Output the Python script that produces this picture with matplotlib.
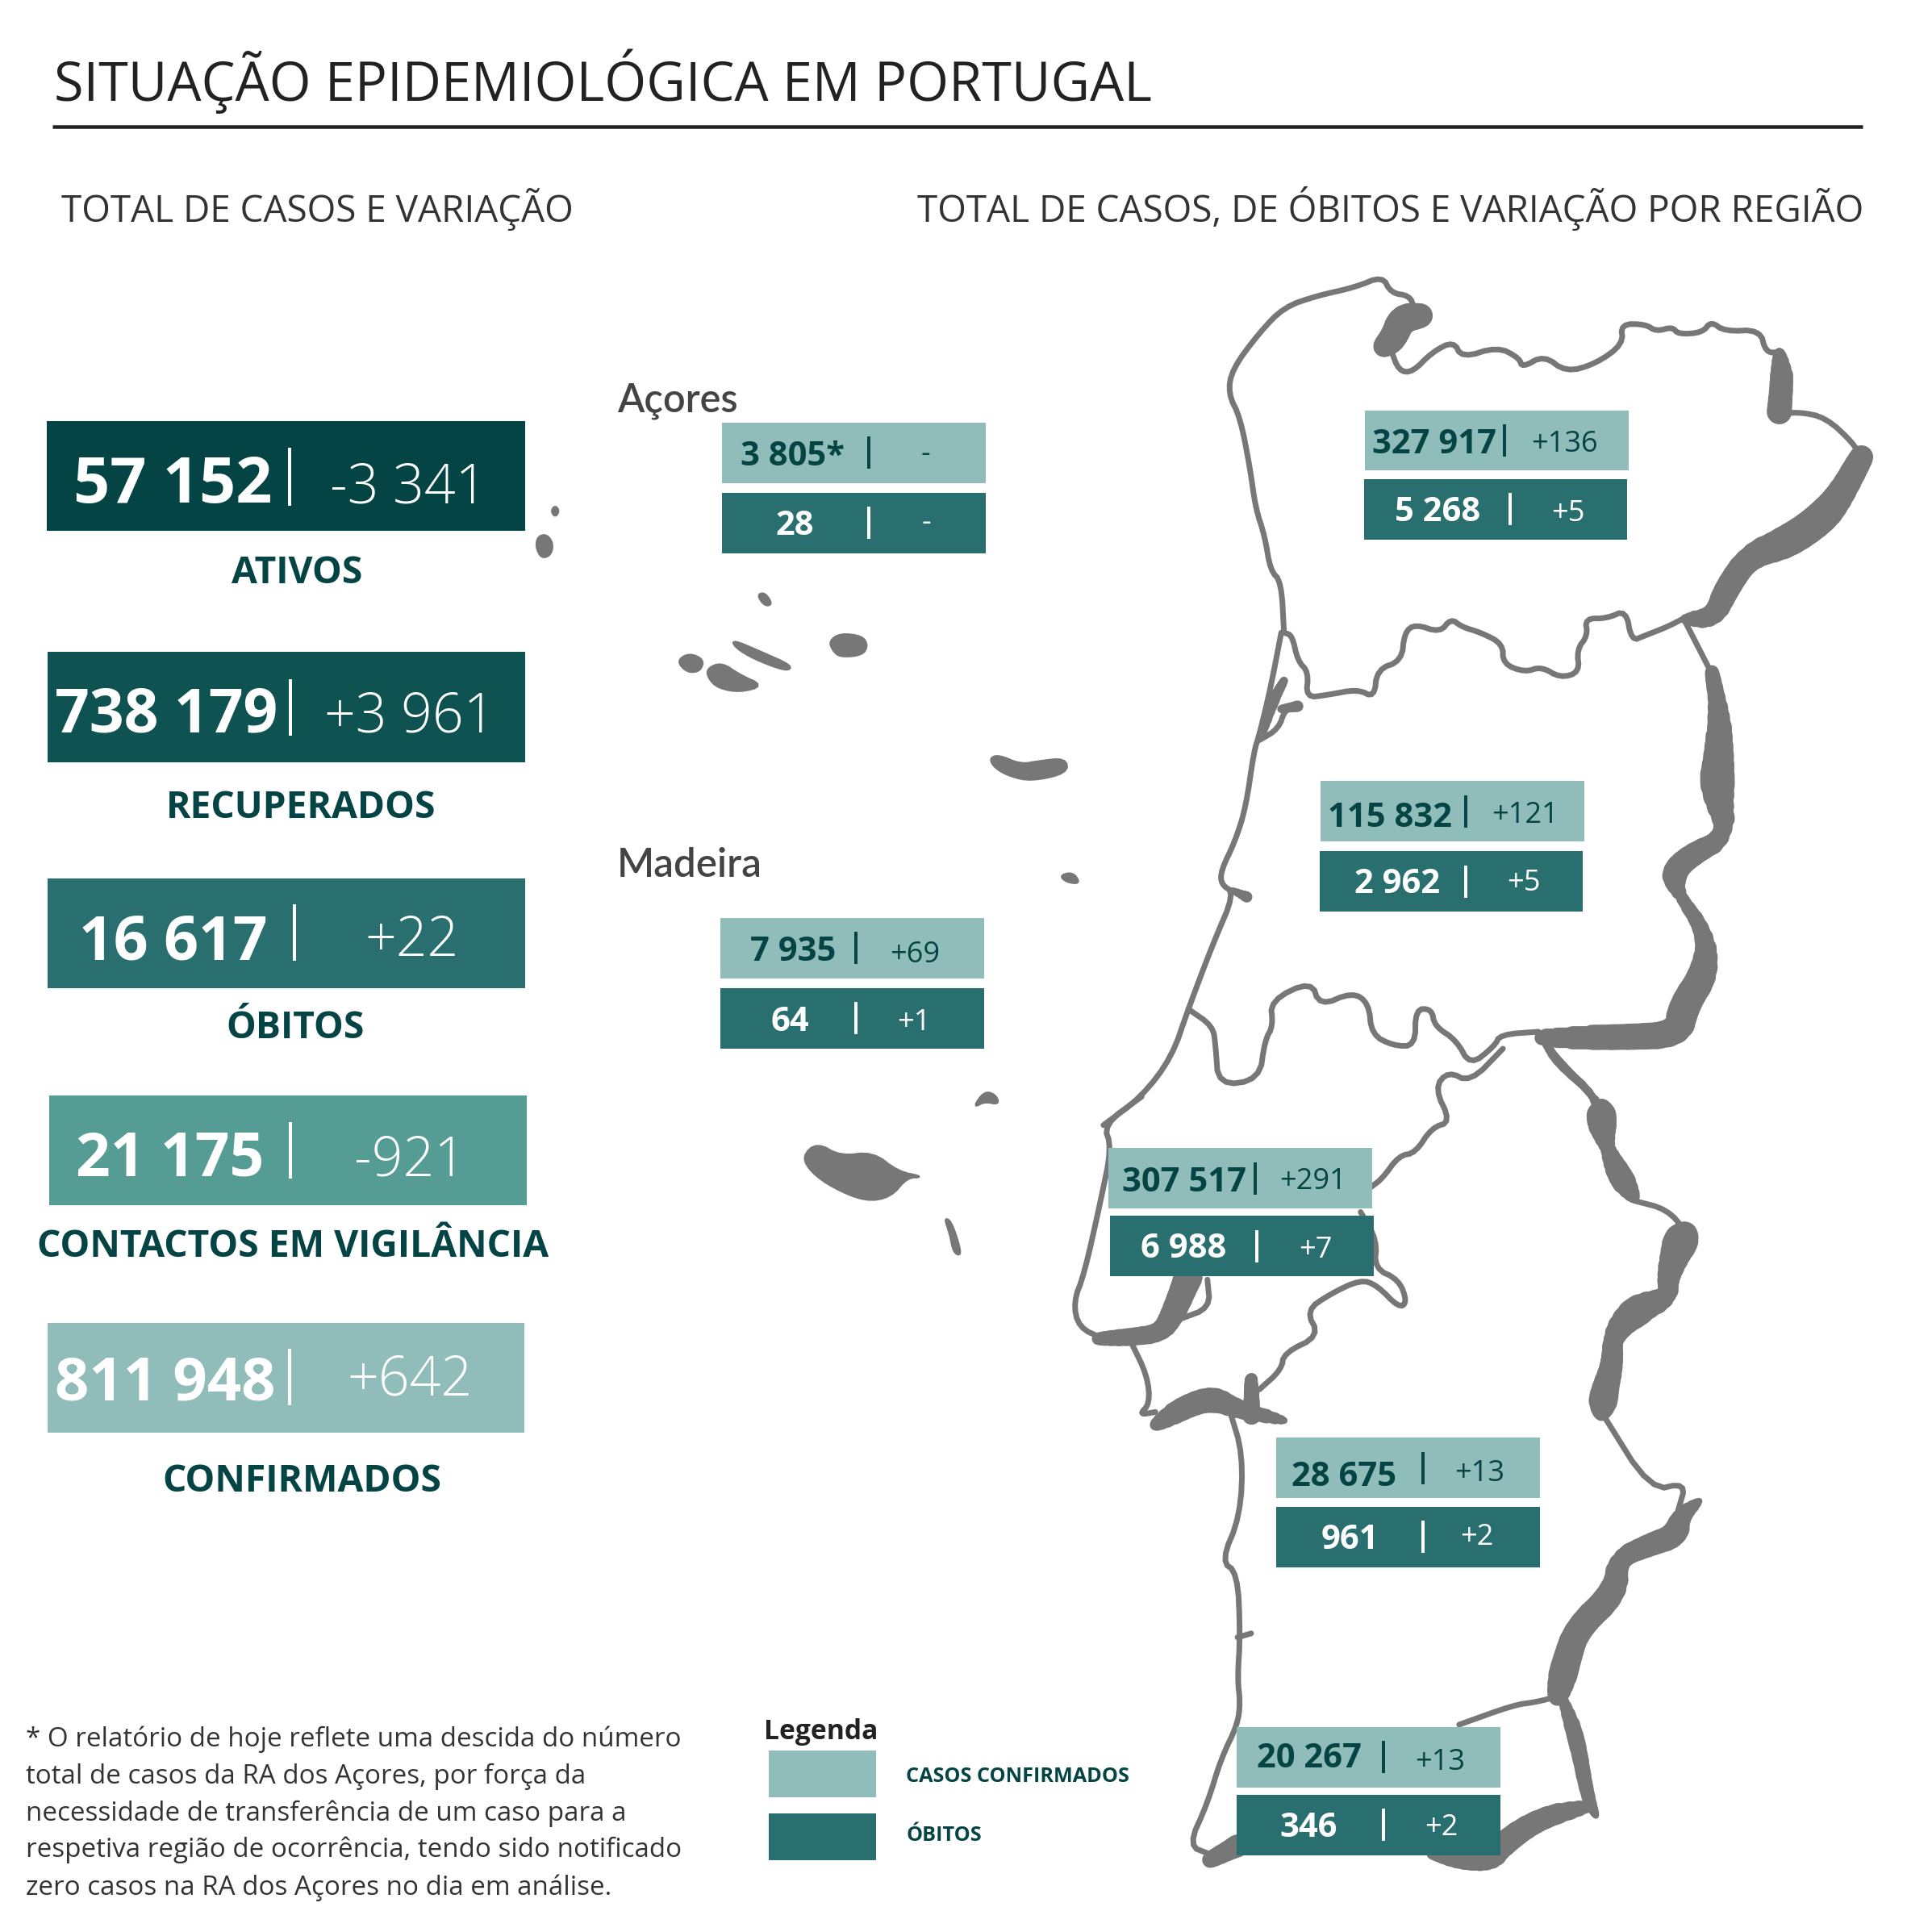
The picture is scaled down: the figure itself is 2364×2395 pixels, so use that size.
import matplotlib
matplotlib.use("Agg")
import matplotlib.pyplot as plt
from matplotlib.collections import LineCollection
from matplotlib.patches import Polygon, Rectangle

plt.rcParams["font.family"] = ["Open Sans", "DejaVu Sans"]

# ---- dados ----
card_labels = ["ATIVOS", "RECUPERADOS", "ÓBITOS", "CONTACTOS EM VIGILÂNCIA", "CONFIRMADOS"]
card_totals = ["57 152", "738 179", "16 617", "21 175", "811 948"]
card_changes = ["-3 341", "+3 961", "+22", "-921", "+642"]
card_colors = ["#044444", "#0F5252", "#2A6F6F", "#559C94", "#90BDB9"]

region_cases = ["3 805*", "7 935", "327 917", "115 832", "307 517", "28 675", "20 267"]
region_cases_change = ["-", "+69", "+136", "+121", "+291", "+13", "+13"]
region_deaths = ["28", "64", "5 268", "2 962", "6 988", "961", "346"]
region_deaths_change = ["-", "+1", "+5", "+5", "+7", "+2", "+2"]

footnote = [
    "* O relatório de hoje reflete uma descida do número",
    "total de casos da RA dos Açores, por força da",
    "necessidade de transferência de um caso para a",
    "respetiva região de ocorrência, tendo sido notificado",
    "zero casos na RA dos Açores no dia em análise.",
]

# ---- layout (cartoes em px, caixas das regioes em coordenadas da vista 1548) ----
card_y = [(522, 658), (808, 945), (1089, 1225), (1358, 1494), (1640, 1776)]
card_x = [(58, 651), (59, 651), (59, 651), (61, 653), (59, 650)]
card_total_pos = [(214, 623), (206, 908), (215, 1189), (211, 1458), (205, 1736)]
card_total_size = [57, 54, 54, 54, 53.5]
card_change_pos = [(506, 623), (508, 908), (510, 1185), (508, 1457), (508, 1729)]
card_sep = [(359, 555, 627), (360, 842, 912), (365, 1121, 1191), (360, 1391, 1461), (359, 1672, 1742)]
card_label_pos = [(368, 723), (373, 1014), (366, 1287), (363, 1558), (374, 1849)]

box_top = [(586, 343), (585, 745), (1108, 333), (1072, 634), (900, 932), (1036, 1167), (1004, 1402)]
box_bot = [(586, 400), (585, 802), (1107, 389), (1071, 691), (901, 987), (1036, 1223), (1004, 1457)]
top_val = [(643, 378), (644, 780), (1164, 368), (1128, 671), (961, 967), (1091, 1206), (1063, 1435)]
top_var = [(751, 375), (743, 781), (1270, 367), (1238, 668), (1066, 965), (1201, 1202), (1169, 1437)]
top_sep = [705, 695, 1221, 1190, 1019, 1155, 1123]
bot_val = [(645, 434), (641, 837), (1167, 423), (1134, 725), (961, 1021), (1096, 1257), (1062, 1491)]
bot_var = [(752, 431), (742, 836), (1273, 423), (1237, 723), (1068, 1021), (1199, 1254), (1170, 1490)]
bot_sep = [705, 695, 1226, 1190, 1020, 1155, 1123]

DARK = "#044444"
LIGHT = "#90BDB9"
MID = "#2A6F6F"
GREY = "#777777"
S = 2364 / 1548
RIVER_GAIN = 1.2

# ---- contornos do mapa ----
# z1 / z2 : continente, z3 : ilhas (coordenadas lidas das ampliacoes)
north_line = [(430, 690), (425, 600), (405, 580), (395, 520), (378, 470), (368, 400), (350, 310), (328, 268),
              (335, 225), (385, 160), (430, 115), (490, 95), (560, 80), (610, 60), (625, 90), (660, 95), (668, 118)]
north_top = [(625, 190), (640, 228), (665, 230), (700, 195), (740, 175), (755, 205), (820, 185), (860, 205),
             (865, 222), (905, 200), (945, 230), (1000, 215), (1050, 180), (1045, 145), (1090, 145), (1110, 158),
             (1140, 150), (1150, 163), (1195, 160), (1210, 140), (1235, 158), (1300, 155), (1310, 195), (1335, 195)]
north_east = [(1330, 305), (1370, 300), (1420, 310), (1470, 355), (1482, 378)]
north_south = [(1160, 665), (1130, 680), (1090, 695), (1065, 705), (1055, 650), (1020, 665), (980, 665),
               (985, 695), (965, 720), (970, 760), (935, 770), (900, 750), (870, 760), (830, 745), (830, 710),
               (790, 690), (755, 680), (735, 665), (715, 690), (670, 675), (650, 690), (645, 740), (600, 755),
               (595, 805), (565, 790), (510, 800), (470, 805), (475, 760), (455, 740), (445, 695), (430, 690)]
centre_coast = [(425, 690), (405, 790), (385, 870), (375, 900), (360, 1000), (340, 1060), (315, 1110),
                (315, 1135), (340, 1150), (300, 1240), (255, 1355), (225, 1440), (170, 1510), (100, 1560)]
aveiro = [(385, 880), (420, 860), (432, 825), (455, 820)]
centre_south = [(255, 1355), (300, 1385), (305, 1420), (310, 1490), (385, 1480), (395, 1410), (410, 1385),
                (405, 1340), (480, 1305), (495, 1350), (555, 1325), (585, 1345), (590, 1400), (630, 1420),
                (670, 1420), (670, 1355), (700, 1355), (705, 1385), (745, 1410), (770, 1455), (815, 1420),
                (825, 1400), (895, 1395)]
centre_border = [(1160, 665), (1205, 750)]

lvt_coast = [(170, 85), (100, 135), (115, 175), (95, 270), (65, 400), (45, 450), (55, 495), (100, 515)]
lvt_south = [(150, 520), (180, 580), (185, 630), (165, 650), (195, 645)]
lvt_east_a = [(830, 0), (770, 60), (730, 40), (705, 70), (735, 130), (700, 140), (670, 185), (640, 190),
              (610, 230), (590, 245)]
lvt_east_b = [(570, 290), (600, 340), (595, 390), (640, 410), (655, 450), (640, 460), (600, 420), (570, 410),
              (515, 435), (470, 465), (495, 510), (430, 540), (425, 570), (385, 605)]
tejo_loop = [(290, 410), (295, 460), (240, 480)]
alentejo_coast = [(330, 640), (355, 720), (350, 830), (315, 910), (345, 930), (350, 1040), (345, 1120),
                  (350, 1160), (345, 1200), (315, 1260), (290, 1340), (255, 1415), (295, 1430)]
mira = [(345, 1045), (370, 1038)]
alentejo_east_a = [(915, 0), (1000, 90)]
alentejo_east_b = [(1070, 270), (1130, 285), (1165, 325)]
alentejo_east_c = [(1010, 645), (1100, 785), (1165, 770), (1150, 820)]
algarve_top = [(930, 1150), (890, 1160), (850, 1165), (750, 1200)]

# (x, y, largura em px)
lima = [(680, 130, 24), (645, 135, 30), (630, 170, 28), (612, 185, 20)]
minho_river = [(1335, 195, 8), (1340, 240, 24), (1335, 300, 26)]
douro = [(1485, 380, 24), (1445, 450, 28), (1410, 490, 34), (1350, 530, 34), (1280, 555, 26), (1240, 610, 26),
         (1215, 665, 20), (1160, 665, 6)]
beira_east = [(1212, 760, 14), (1225, 830, 18), (1225, 900, 28), (1220, 965, 36), (1240, 1050, 18),
              (1170, 1085, 24), (1140, 1115, 26), (1150, 1150, 12), (1200, 1220, 18), (1200, 1290, 30),
              (1160, 1350, 32), (1150, 1400, 28), (1050, 1405, 26), (900, 1405, 14)]
tejo_south = [(905, 1410, 8), (930, 1450, 10), (1000, 1510, 8), (1010, 1560, 28)]
aveiro_ria = [(430, 775, 8), (410, 810, 12), (392, 865, 7)]
aveiro_arm = [(425, 825, 8), (455, 820, 12)]
mondego = [(335, 1145, 5), (362, 1157, 12)]

estuary = [(255, 405, 30), (228, 470, 26), (205, 505, 20), (150, 512, 18), (90, 515, 12)]
sado_a = [(195, 668, 10), (250, 635, 24), (300, 620, 26), (345, 640, 18), (430, 660, 6)]
sado_b = [(370, 585, 12), (370, 650, 20)]
guadiana_a = [(1010, 100, 8), (1010, 130, 32), (1020, 175, 14), (1040, 220, 26), (1070, 265, 8)]
guadiana_b = [(1165, 325, 14), (1150, 350, 36), (1130, 410, 24), (1135, 440, 18), (1070, 465, 32),
              (1030, 510, 20), (1030, 560, 24), (1015, 610, 30), (1010, 650, 8)]
guadiana_c = [(1190, 802, 3), (1155, 830, 16), (1145, 865, 26), (1100, 880, 24), (1040, 905, 20), (1035, 965, 28),
              (965, 1030, 28), (945, 1090, 30), (930, 1150, 18)]
algarve_east = [(940, 1155, 8), (965, 1225, 18), (985, 1330, 14), (1000, 1362, 5)]
algarve_south = [(985, 1345, 10), (900, 1365, 22), (830, 1410, 26), (810, 1445, 18), (750, 1445, 14), (700, 1430, 10)]
algarve_west = [(295, 1440, 16), (345, 1415, 24)]

azores_corvo = [(98, 279), (108, 271), (118, 279), (108, 288)]
azores_flores = [(55, 336), (62, 320), (85, 318), (101, 332), (95, 350), (70, 355)]
azores_graciosa = [(670, 415), (690, 412), (710, 430), (690, 432)]
azores_sjorge = [(600, 488), (680, 508), (765, 530), (750, 538), (660, 518), (610, 500)]
azores_pico = [(530, 535), (570, 525), (620, 545), (685, 562), (620, 572), (560, 565), (535, 550)]
azores_faial = [(447, 522), (480, 510), (520, 520), (510, 538), (475, 540)]
azores_terceira = [(870, 490), (900, 478), (960, 482), (975, 497), (960, 512), (900, 515), (880, 505)]
azores_smiguel = [(1315, 680), (1340, 675), (1400, 690), (1450, 685), (1525, 680), (1530, 703), (1430, 716),
                  (1370, 708), (1330, 695)]
azores_smaria = [(1510, 870), (1545, 865), (1565, 882), (1530, 880)]
madeira_main = [(795, 1325), (835, 1303), (900, 1325), (990, 1318), (1060, 1350), (1130, 1358), (1085, 1358),
                (1040, 1390), (970, 1397), (880, 1375), (820, 1350)]
madeira_psanto = [(1270, 1245), (1300, 1220), (1330, 1225), (1340, 1240), (1300, 1235)]
madeira_desertas = [(1190, 1425), (1205, 1430), (1222, 1455), (1235, 1485), (1215, 1480), (1205, 1450)]


def z1(p):
    return 1300 + p[0] / 1.474, 300 + p[1] / 1.425


def z2(p):
    return 1300 + p[0] / 1.474, 1300 + p[1] / 1.432


def z3(p):
    return 640 + p[0] / 2.24, 420 + p[1] / 1.307


def chaikin(points, closed=False):
    # arredonda os cantos dos contornos
    for _ in range(2):
        out = [] if closed else [points[0]]
        n = len(points)
        last = n if closed else n - 1
        for i in range(last):
            p, q = points[i], points[(i + 1) % n]
            out.append((p[0] * .75 + q[0] * .25, p[1] * .75 + q[1] * .25))
            out.append((p[0] * .25 + q[0] * .75, p[1] * .25 + q[1] * .75))
        if not closed:
            out.append(points[-1])
        points = out
    return points


fig = plt.figure(figsize=(23.64, 23.95), dpi=100, facecolor="white")
ax = fig.add_axes([0, 0, 1, 1])
ax.set_xlim(0, 2364)
ax.set_ylim(2395, 0)
ax.axis("off")


def lw_px(px):
    return px * 72 / 100


def thin(points, conv, width=7):
    xy = [conv(p) for p in chaikin(points)]
    ax.plot([a for a, b in xy], [b for a, b in xy], color=GREY, lw=lw_px(width),
            solid_joinstyle="round", solid_capstyle="round", zorder=1)


def thick(points, conv):
    # rio de largura variavel : cada troco tem a sua espessura
    path = chaikin([(p[0], p[1]) for p in points])
    w = [p[2] * RIVER_GAIN for p in points]
    segs, widths = [], []
    n = len(path) - 1
    for i in range(n):
        segs.append([conv(path[i]), conv(path[i + 1])])
        t = (i + .5) / n * (len(w) - 1)
        k = min(int(t), len(w) - 2)
        widths.append(lw_px(w[k] + (w[k + 1] - w[k]) * (t - k)))
    ax.add_collection(LineCollection(segs, linewidths=widths, colors=GREY, capstyle="round", zorder=1))


for line in [north_line, north_top, north_east, north_south, centre_coast, aveiro, centre_south, centre_border]:
    thin(line, z1)
for line in [lvt_coast, lvt_south, lvt_east_a, lvt_east_b, tejo_loop, alentejo_coast, mira, alentejo_east_a,
             alentejo_east_b, alentejo_east_c, algarve_top]:
    thin(line, z2)
for line in [lima, minho_river, douro, beira_east, tejo_south, aveiro_ria, aveiro_arm, mondego]:
    thick(line, z1)
for line in [estuary, sado_a, sado_b, guadiana_a, guadiana_b, guadiana_c, algarve_east, algarve_south, algarve_west]:
    thick(line, z2)
for isle in [azores_corvo, azores_flores, azores_graciosa, azores_sjorge, azores_pico, azores_faial, azores_terceira,
             azores_smiguel, azores_smaria, madeira_main, madeira_psanto, madeira_desertas]:
    ax.add_patch(Polygon([z3(p) for p in chaikin(isle, closed=True)], closed=True, fc=GREY, ec=GREY, lw=2.5,
                         joinstyle="round", zorder=1))

# ---- titulos ----
ax.text(67, 125, "SITUAÇÃO EPIDEMIOLÓGICA EM PORTUGAL", fontsize=48, color="#222222", va="baseline", ha="left")
ax.plot([65, 2309], [157, 157], color="#222222", lw=lw_px(4.5), solid_capstyle="butt")
ax.text(76, 275, "TOTAL DE CASOS E VARIAÇÃO", fontsize=33, color="#333333", va="baseline", ha="left")
ax.text(2310, 275, "TOTAL DE CASOS, DE ÓBITOS E VARIAÇÃO POR REGIÃO", fontsize=33, color="#333333",
        va="baseline", ha="right")
ax.text(765, 510, "Açores", fontsize=35, color="#444444", va="baseline", ha="left", weight="semibold",
        family=["Lato", "DejaVu Sans"])
ax.text(765, 1087, "Madeira", fontsize=35.5, color="#444444", va="baseline", ha="left", weight="semibold",
        family=["Lato", "DejaVu Sans"])

# ---- cartoes da esquerda ----
for i in range(len(card_labels)):
    x0, x1 = card_x[i]
    y0, y1 = card_y[i]
    ax.add_patch(Rectangle((x0, y0), x1 - x0, y1 - y0, fc=card_colors[i], ec="none", zorder=2))
    ax.text(*card_total_pos[i], card_totals[i], fontsize=card_total_size[i], weight="bold", color="white",
            ha="center", va="baseline", zorder=3)
    ax.text(*card_change_pos[i], card_changes[i], fontsize=49, weight="light", color="white", ha="center",
            va="baseline", zorder=3)
    sx, sy0, sy1 = card_sep[i]
    ax.plot([sx, sx], [sy0, sy1], color="white", lw=lw_px(4), solid_capstyle="butt", zorder=3)
    ax.text(*card_label_pos[i], card_labels[i], fontsize=33.3, weight="bold", color=DARK, ha="center", va="baseline")

# ---- caixas das regioes ----
BOX_W, BOX_H = 214 * S, 49 * S
for i in range(len(region_cases)):
    ax.add_patch(Rectangle((box_top[i][0] * S, box_top[i][1] * S), BOX_W, BOX_H, fc=LIGHT, ec="none", zorder=2))
    ax.add_patch(Rectangle((box_bot[i][0] * S, box_bot[i][1] * S), BOX_W, BOX_H, fc=MID, ec="none", zorder=2))
    ax.text(top_val[i][0] * S, top_val[i][1] * S, region_cases[i], fontsize=30, weight="bold", color=DARK,
            ha="center", va="baseline", zorder=3)
    ax.text(top_var[i][0] * S, top_var[i][1] * S, region_cases_change[i], fontsize=26, color=DARK,
            ha="center", va="baseline", zorder=3)
    ax.text(bot_val[i][0] * S, bot_val[i][1] * S, region_deaths[i], fontsize=30, weight="bold", color="white",
            ha="center", va="baseline", zorder=3)
    ax.text(bot_var[i][0] * S, bot_var[i][1] * S, region_deaths_change[i], fontsize=26, color="white",
            ha="center", va="baseline", zorder=3)
    ym = (box_top[i][1] + 24.5) * S
    ax.plot([top_sep[i] * S] * 2, [ym - 20, ym + 20], color=DARK, lw=lw_px(4), solid_capstyle="butt", zorder=3)
    ym = (box_bot[i][1] + 24.5) * S
    ax.plot([bot_sep[i] * S] * 2, [ym - 20, ym + 20], color="white", lw=lw_px(4), solid_capstyle="butt", zorder=3)

# ---- legenda ----
ax.text(620 * S, 1412 * S, "Legenda", fontsize=24.2, weight="bold", color="#222222", ha="left", va="baseline")
ax.add_patch(Rectangle((624 * S, 1421 * S), 87 * S, 38 * S, fc=LIGHT, ec="none"))
ax.add_patch(Rectangle((624 * S, 1472 * S), 87 * S, 38 * S, fc=MID, ec="none"))
ax.text(735.5 * S, 1446.5 * S, "CASOS CONFIRMADOS", fontsize=18.2, weight="bold", color=DARK, ha="left", va="baseline")
ax.text(735.5 * S, 1494.5 * S, "ÓBITOS", fontsize=18.2, weight="bold", color=DARK, ha="left", va="baseline")

# ---- nota ----
note_base = [1418, 1448, 1478, 1507.5, 1538]
for line, base in zip(footnote, note_base):
    ax.text(21 * S, base * S, line, fontsize=23.9, color="#333333", ha="left", va="baseline")

fig.savefig("out.png", dpi=100, facecolor="white")
